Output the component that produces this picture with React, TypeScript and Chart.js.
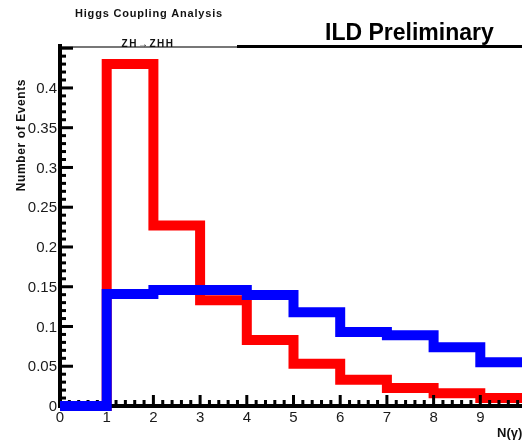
import React, { useEffect, useRef } from "react";
import { Chart, registerables } from "chart.js";

Chart.register(...registerables);

// Lower edges of the unit-width bins of N(γ)
const binLow = [0, 1, 2, 3, 4, 5, 6, 7, 8, 9];
const binWidth = 1;

// Normalised event fractions per bin
const redCounts = [0, 0.43, 0.227, 0.133, 0.083, 0.053, 0.033, 0.0225, 0.016, 0.01];
const blueCounts = [0, 0.141, 0.146, 0.146, 0.1395, 0.118, 0.093, 0.089, 0.074, 0.055];

// Axis labelling
const yTickValues = [0, 0.05, 0.1, 0.15, 0.2, 0.25, 0.3, 0.35, 0.4];
const yTickLabels = ["0", "0.05", "0.1", "0.15", "0.2", "0.25", "0.3", "0.35", "0.4"];
const xTickValues = [0, 1, 2, 3, 4, 5, 6, 7, 8, 9];
const xTickLabels = ["0", "1", "2", "3", "4", "5", "6", "7", "8", "9"];

const titleLine1 = "Higgs Coupling Analysis";
const titleLine2 = "ZH\u2192ZHH";
const banner = "ILD Preliminary";
const yTitle = "Number of Events";
const xTitle = "N(\u03B3)";

const xMin = 0;
const xMax = 10;
const yMax = Math.max(...redCounts, ...blueCounts) * 1.05;

const CANVAS_W = 560;
const CANVAS_H = 441;

const FONT = '"Liberation Sans", Arial, Helvetica, sans-serif';

function stepPoints(values: number[]) {
  const pts = binLow.map((x, i) => ({ x, y: values[i] }));
  const last = binLow.length - 1;
  pts.push({ x: binLow[last] + binWidth, y: values[last] });
  return pts;
}

function drawAxes(chart: Chart) {
  const ctx = chart.ctx;
  const xs = chart.scales.x;
  const ys = chart.scales.y;
  const { left, right, top, bottom } = chart.chartArea;
  ctx.save();
  ctx.fillStyle = "#000";

  // frame top: thin grey part under the title pave, heavier line after it
  ctx.fillStyle = "#777";
  ctx.fillRect(left - 2, top - 1, 237 - left + 2, 2);
  ctx.fillStyle = "#000";
  ctx.fillRect(237, top - 2, right - 237, 3);

  // axis lines
  ctx.fillRect(left - 2, top - 3, 4, bottom - top + 5);
  ctx.fillRect(left - 2, bottom - 2, right - left + 4, 4);

  // y ticks: major every 0.05, minor every 0.01
  for (let k = 0; k <= Math.floor(yMax * 100 + 1e-6); k++) {
    const y = ys.getPixelForValue(k / 100);
    const len = k % 5 === 0 ? 13 : 6;
    ctx.fillRect(left, y - 1.5, len, 3);
  }
  // x ticks: major every 1, minor every 0.2
  for (let k = 0; k <= (xMax - xMin) * 5; k++) {
    const x = xs.getPixelForValue(xMin + k / 5);
    const len = k % 5 === 0 ? 11 : 6;
    ctx.fillRect(x - 1.5, bottom - len, 3, len);
  }

  // tick labels
  ctx.fillStyle = "#1a1a1a";
  ctx.font = `15px ${FONT}`;
  ctx.textAlign = "right";
  ctx.textBaseline = "middle";
  yTickValues.forEach((v, i) => {
    ctx.fillText(yTickLabels[i], left - 3, ys.getPixelForValue(v) + 1);
  });
  ctx.textAlign = "center";
  ctx.textBaseline = "top";
  xTickValues.forEach((v, i) => {
    ctx.fillText(xTickLabels[i], xs.getPixelForValue(v), bottom + 4);
  });
  ctx.restore();
}

function drawTexts(chart: Chart) {
  const ctx = chart.ctx;
  ctx.save();
  ctx.fillStyle = "#111";
  ctx.textBaseline = "middle";

  ctx.textAlign = "center";
  ctx.font = `bold 11px ${FONT}`;
  (ctx as any).letterSpacing = "0.8px";
  ctx.fillText(titleLine1, 149, 14);
  ctx.font = `bold 10px ${FONT}`;
  (ctx as any).letterSpacing = "1.5px";
  ctx.fillText(titleLine2, 148, 44);
  (ctx as any).letterSpacing = "0px";

  ctx.fillStyle = "#000";
  ctx.textAlign = "left";
  ctx.font = `bold 23px ${FONT}`;
  ctx.fillText(banner, 325, 34);

  ctx.fillStyle = "#111";
  ctx.font = `bold 13px ${FONT}`;
  ctx.fillText(xTitle, 497, 433);

  ctx.translate(22, 135);
  ctx.rotate(-Math.PI / 2);
  ctx.textAlign = "center";
  ctx.font = `bold 12px ${FONT}`;
  (ctx as any).letterSpacing = "0.6px";
  ctx.fillText(yTitle, 0, 0);
  ctx.restore();
}

const rootStyle = {
  id: "rootStyle",
  afterDatasetDraw(chart: Chart, args: { index: number }) {
    // the red histogram sits under the axes, the blue one is drawn over them
    if (args.index === 1) drawAxes(chart);
  },
  afterDraw(chart: Chart) {
    drawTexts(chart);
  },
};

export default function App() {
  const canvasRef = useRef<HTMLCanvasElement | null>(null);

  useEffect(() => {
    const canvas = canvasRef.current;
    if (!canvas) return;
    const chart = new Chart(canvas, {
      type: "line",
      data: {
        datasets: [
          {
            label: "blue",
            data: stepPoints(blueCounts),
            borderColor: "#0000ff",
            borderWidth: 10,
            stepped: "before",
            pointRadius: 0,
            fill: false,
            borderJoinStyle: "miter",
            borderCapStyle: "butt",
            clip: false,
          },
          {
            label: "red",
            data: stepPoints(redCounts),
            borderColor: "#ff0000",
            borderWidth: 10,
            stepped: "before",
            pointRadius: 0,
            fill: false,
            borderJoinStyle: "miter",
            borderCapStyle: "butt",
            clip: false,
          },
        ],
      },
      options: {
        responsive: false,
        animation: false,
        devicePixelRatio: 1,
        layout: { padding: { left: 60, right: CANVAS_W - 527, top: 47, bottom: CANVAS_H - 406 } },
        plugins: { legend: { display: false }, tooltip: { enabled: false } },
        events: [],
        scales: {
          x: { type: "linear", min: xMin, max: xMax, display: false },
          y: { type: "linear", min: 0, max: yMax, display: false },
        },
      },
      plugins: [rootStyle as any],
    });
    return () => chart.destroy();
  }, []);

  return (
    <div
      style={{
        position: "fixed",
        left: 0,
        top: 0,
        width: 522,
        height: 441,
        overflow: "hidden",
        background: "#fff",
      }}
    >
      <canvas ref={canvasRef} width={CANVAS_W} height={CANVAS_H} style={{ display: "block" }} />
    </div>
  );
}
